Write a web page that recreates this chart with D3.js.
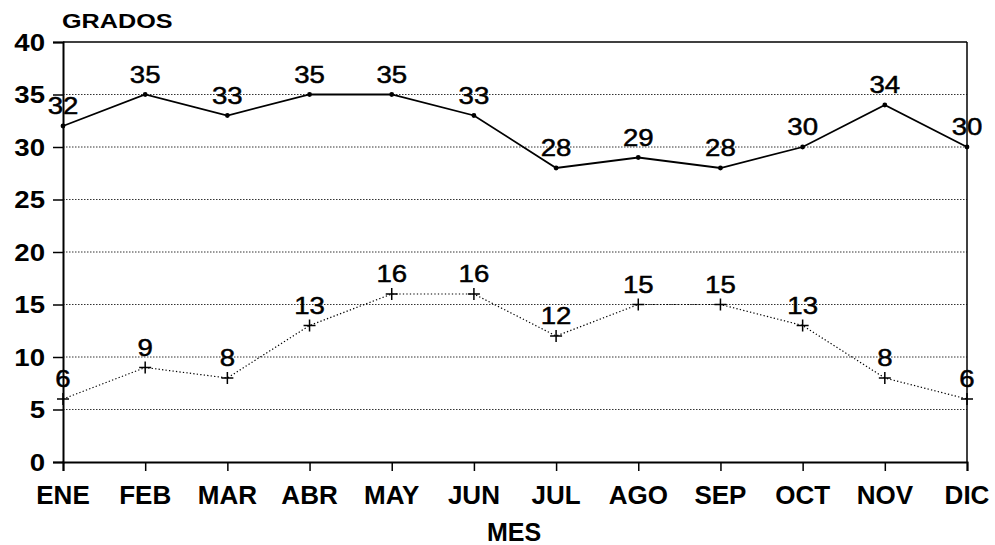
<html>
<head>
<script src="https://cdnjs.cloudflare.com/ajax/libs/d3/7.8.5/d3.min.js"></script>
<style>
  body { margin: 0; background: #fff; }
  text { font-family: "Liberation Sans", Arial, sans-serif; fill: #000; }
</style>
</head>
<body>
<svg width="995" height="545"></svg>
<script>
// data (degrees per month)
var months = ["ENE","FEB","MAR","ABR","MAY","JUN","JUL","AGO","SEP","OCT","NOV","DIC"];
var maxTemp = [32,35,33,35,35,33,28,29,28,30,34,30];
var minTemp = [6,9,8,13,16,16,12,15,15,13,8,6];
var yTicks = [0,5,10,15,20,25,30,35,40];

var svg = d3.select("svg");
var plotLeft = 63, plotRight = 967, plotTop = 42, plotBottom = 462;

var x = d3.scalePoint().domain(months).range([plotLeft, plotRight]);
var y = d3.scaleLinear().domain([0, 40]).range([plotBottom, plotTop]);

// dotted gridlines
svg.append("g").selectAll("line")
  .data(yTicks.filter(d => d > 0 && d < 40))
  .enter().append("line")
  .attr("x1", plotLeft).attr("x2", plotRight)
  .attr("y1", d => y(d)).attr("y2", d => y(d))
  .attr("stroke", "#333").attr("stroke-width", 1)
  .attr("stroke-dasharray", "1.5,1.5");

// frame: top and right
svg.append("line").attr("x1", plotLeft).attr("x2", plotRight).attr("y1", y(40)).attr("y2", y(40))
  .attr("stroke", "#000").attr("stroke-width", 1.5);
svg.append("line").attr("x1", plotRight).attr("x2", plotRight).attr("y1", y(40)).attr("y2", y(0))
  .attr("stroke", "#000").attr("stroke-width", 1.5);

// y axis
var yAxis = svg.append("g").attr("transform", "translate(" + plotLeft + ",0)")
  .call(d3.axisLeft(y).tickValues(yTicks).tickSize(10).tickFormat(""));
yAxis.select(".domain").attr("stroke-width", 2);
yAxis.selectAll(".tick line").attr("stroke-width", 1.5);
svg.append("g").selectAll("text").data(yTicks).enter().append("text")
  .attr("transform", d => "translate(45," + (y(d) + 8.5) + ") scale(1.2,1)")
  .attr("text-anchor", "end")
  .style("font-size", "23px").style("font-weight", "bold")
  .text(d => d);

// x axis
var xAxis = svg.append("g").attr("transform", "translate(0," + plotBottom + ")")
  .call(d3.axisBottom(x).tickSize(9).tickFormat(""));
xAxis.select(".domain").attr("stroke-width", 2);
xAxis.selectAll(".tick line").attr("stroke-width", 1.5);
svg.append("g").selectAll("text").data(months).enter().append("text")
  .attr("transform", d => "translate(" + x(d) + ",504)")
  .attr("text-anchor", "middle")
  .style("font-size", "26px").style("font-weight", "bold")
  .text(d => d);

// titles
svg.append("text").attr("transform", "translate(62,28) scale(1.2,1)")
  .style("font-size", "21px").style("font-weight", "bold").text("GRADOS");
svg.append("text").attr("x", 514).attr("y", 541).attr("text-anchor", "middle")
  .style("font-size", "25px").style("font-weight", "bold").text("MES");

// max series: solid line with dots
var line = d3.line().x((d, i) => x(months[i])).y(d => y(d));
svg.append("path").datum(maxTemp).attr("d", line)
  .attr("fill", "none").attr("stroke", "#000").attr("stroke-width", 1.8);
svg.append("g").selectAll("circle").data(maxTemp).enter().append("circle")
  .attr("cx", (d, i) => x(months[i])).attr("cy", d => y(d)).attr("r", 2.4);

// min series: dotted line with plus markers
svg.append("path").datum(minTemp).attr("d", line)
  .attr("fill", "none").attr("stroke", "#000").attr("stroke-width", 1.2)
  .attr("stroke-dasharray", "1.3,2.2");
svg.append("g").selectAll("path").data(minTemp).enter().append("path")
  .attr("d", (d, i) => {
    var cx = x(months[i]), cy = y(d);
    return "M" + (cx - 6) + "," + cy + "H" + (cx + 6) + "M" + cx + "," + (cy - 6) + "V" + (cy + 6);
  })
  .attr("stroke", "#000").attr("stroke-width", 1.5);

// value labels
function labels(series) {
  svg.append("g").selectAll("text").data(series).enter().append("text")
    .attr("transform", (d, i) => "translate(" + x(months[i]) + "," + (y(d) - 12) + ") scale(1.15,1)")
    .attr("text-anchor", "middle")
    .style("font-size", "24px")
    .style("stroke", "#000").style("stroke-width", 0.5)
    .text(d => d);
}
labels(maxTemp);
labels(minTemp);
</script>
</body>
</html>
